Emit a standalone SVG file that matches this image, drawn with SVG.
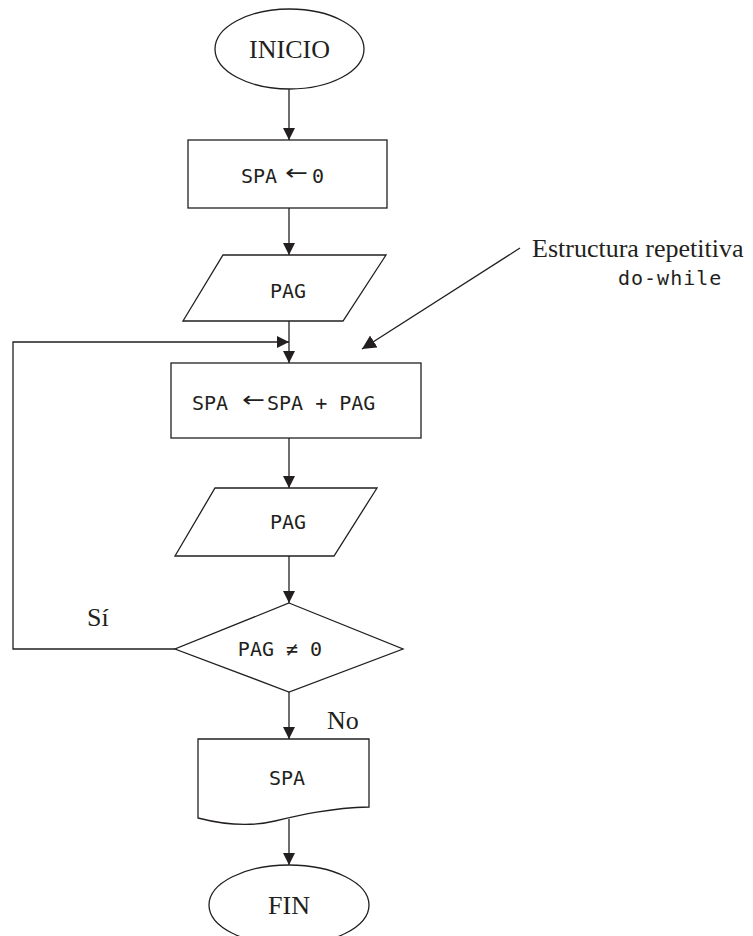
<svg xmlns="http://www.w3.org/2000/svg" width="753" height="936" viewBox="0 0 753 936">
<style>
.s{fill:#fff;stroke:#231f20;stroke-width:1.3}
.c{fill:none;stroke:#231f20;stroke-width:1.3}
.t{font-family:"Liberation Serif","Times New Roman",serif;font-size:26px;fill:#231f20}
.m{font-family:"DejaVu Sans Mono","Liberation Mono",monospace;font-size:20px;fill:#231f20}
.a{font-family:"DejaVu Sans","Liberation Sans",sans-serif;font-size:22px;fill:#231f20}
</style>
<defs>
<marker id="ah" markerUnits="userSpaceOnUse" markerWidth="12" markerHeight="12" refX="12" refY="6" orient="auto">
<path d="M0,0 L12,6 L0,12 Z" fill="#231f20"/>
</marker>
<marker id="ah2" markerUnits="userSpaceOnUse" markerWidth="14" markerHeight="14" refX="14" refY="7" orient="auto">
<path d="M0,0 L14,7 L0,14 Z" fill="#231f20"/>
</marker>
</defs>
<rect width="753" height="936" fill="#fff"/>
<g id="connectors">
<line class="c" x1="289" y1="89" x2="289" y2="140" marker-end="url(#ah)"/>
<line class="c" x1="289" y1="208" x2="289" y2="255" marker-end="url(#ah)"/>
<line class="c" x1="289" y1="321" x2="289" y2="363" marker-end="url(#ah)"/>
<line class="c" x1="289" y1="438" x2="289" y2="488" marker-end="url(#ah)"/>
<line class="c" x1="289" y1="556" x2="289" y2="603" marker-end="url(#ah)"/>
<line class="c" x1="289" y1="692" x2="289" y2="739" marker-end="url(#ah)"/>
<line class="c" x1="289" y1="819" x2="289" y2="865" marker-end="url(#ah)"/>
<polyline class="c" points="175,649 13,649 13,342 289,342" marker-end="url(#ah)"/>
<line class="c" x1="520" y1="248" x2="362" y2="349" marker-end="url(#ah2)"/>
<text class="t" x="87" y="626">Sí</text>
<text class="t" x="327" y="729">No</text>
</g>
<g id="inicio">
<ellipse class="s" cx="289.5" cy="49" rx="74.5" ry="40"/>
<text class="t" x="289.5" y="58" text-anchor="middle">INICIO</text>
</g>
<g id="asig1">
<rect class="s" x="188" y="140" width="199" height="68"/>
<text class="m" x="241" y="183">SPA</text>
<text class="a" x="285" y="180" textLength="23" lengthAdjust="spacingAndGlyphs">←</text>
<text class="m" x="312" y="183">0</text>
</g>
<g id="leer1">
<polygon class="s" points="223,255 386,255 343,321 183,321"/>
<text class="m" x="288" y="298" text-anchor="middle">PAG</text>
</g>
<g id="asig2">
<rect class="s" x="171" y="363" width="250" height="75"/>
<text class="m" x="192" y="410">SPA</text>
<text class="a" x="242" y="407" textLength="23" lengthAdjust="spacingAndGlyphs">←</text>
<text class="m" x="267" y="410">SPA + PAG</text>
</g>
<g id="leer2">
<polygon class="s" points="215,488 377,488 334,556 175,556"/>
<text class="m" x="288" y="529" text-anchor="middle">PAG</text>
</g>
<g id="decision">
<polygon class="s" points="289,603 403,649 289,692 175,649"/>
<text class="m" x="280" y="656" text-anchor="middle">PAG ≠ 0</text>
</g>
<g id="salida">
<path class="s" d="M198,739 H369 V807 C330,808 300,815 275,821 C250,827 225,825 198,818 Z"/>
<text class="m" x="287" y="785" text-anchor="middle">SPA</text>
</g>
<g id="fin">
<ellipse class="s" cx="289" cy="905" rx="80" ry="40"/>
<text class="t" x="289" y="914" text-anchor="middle">FIN</text>
</g>
<g id="nota">
<text class="t" x="532" y="257">Estructura repetitiva</text>
<text class="m" x="618" y="285" letter-spacing="1">do-while</text>
</g>
</svg>
